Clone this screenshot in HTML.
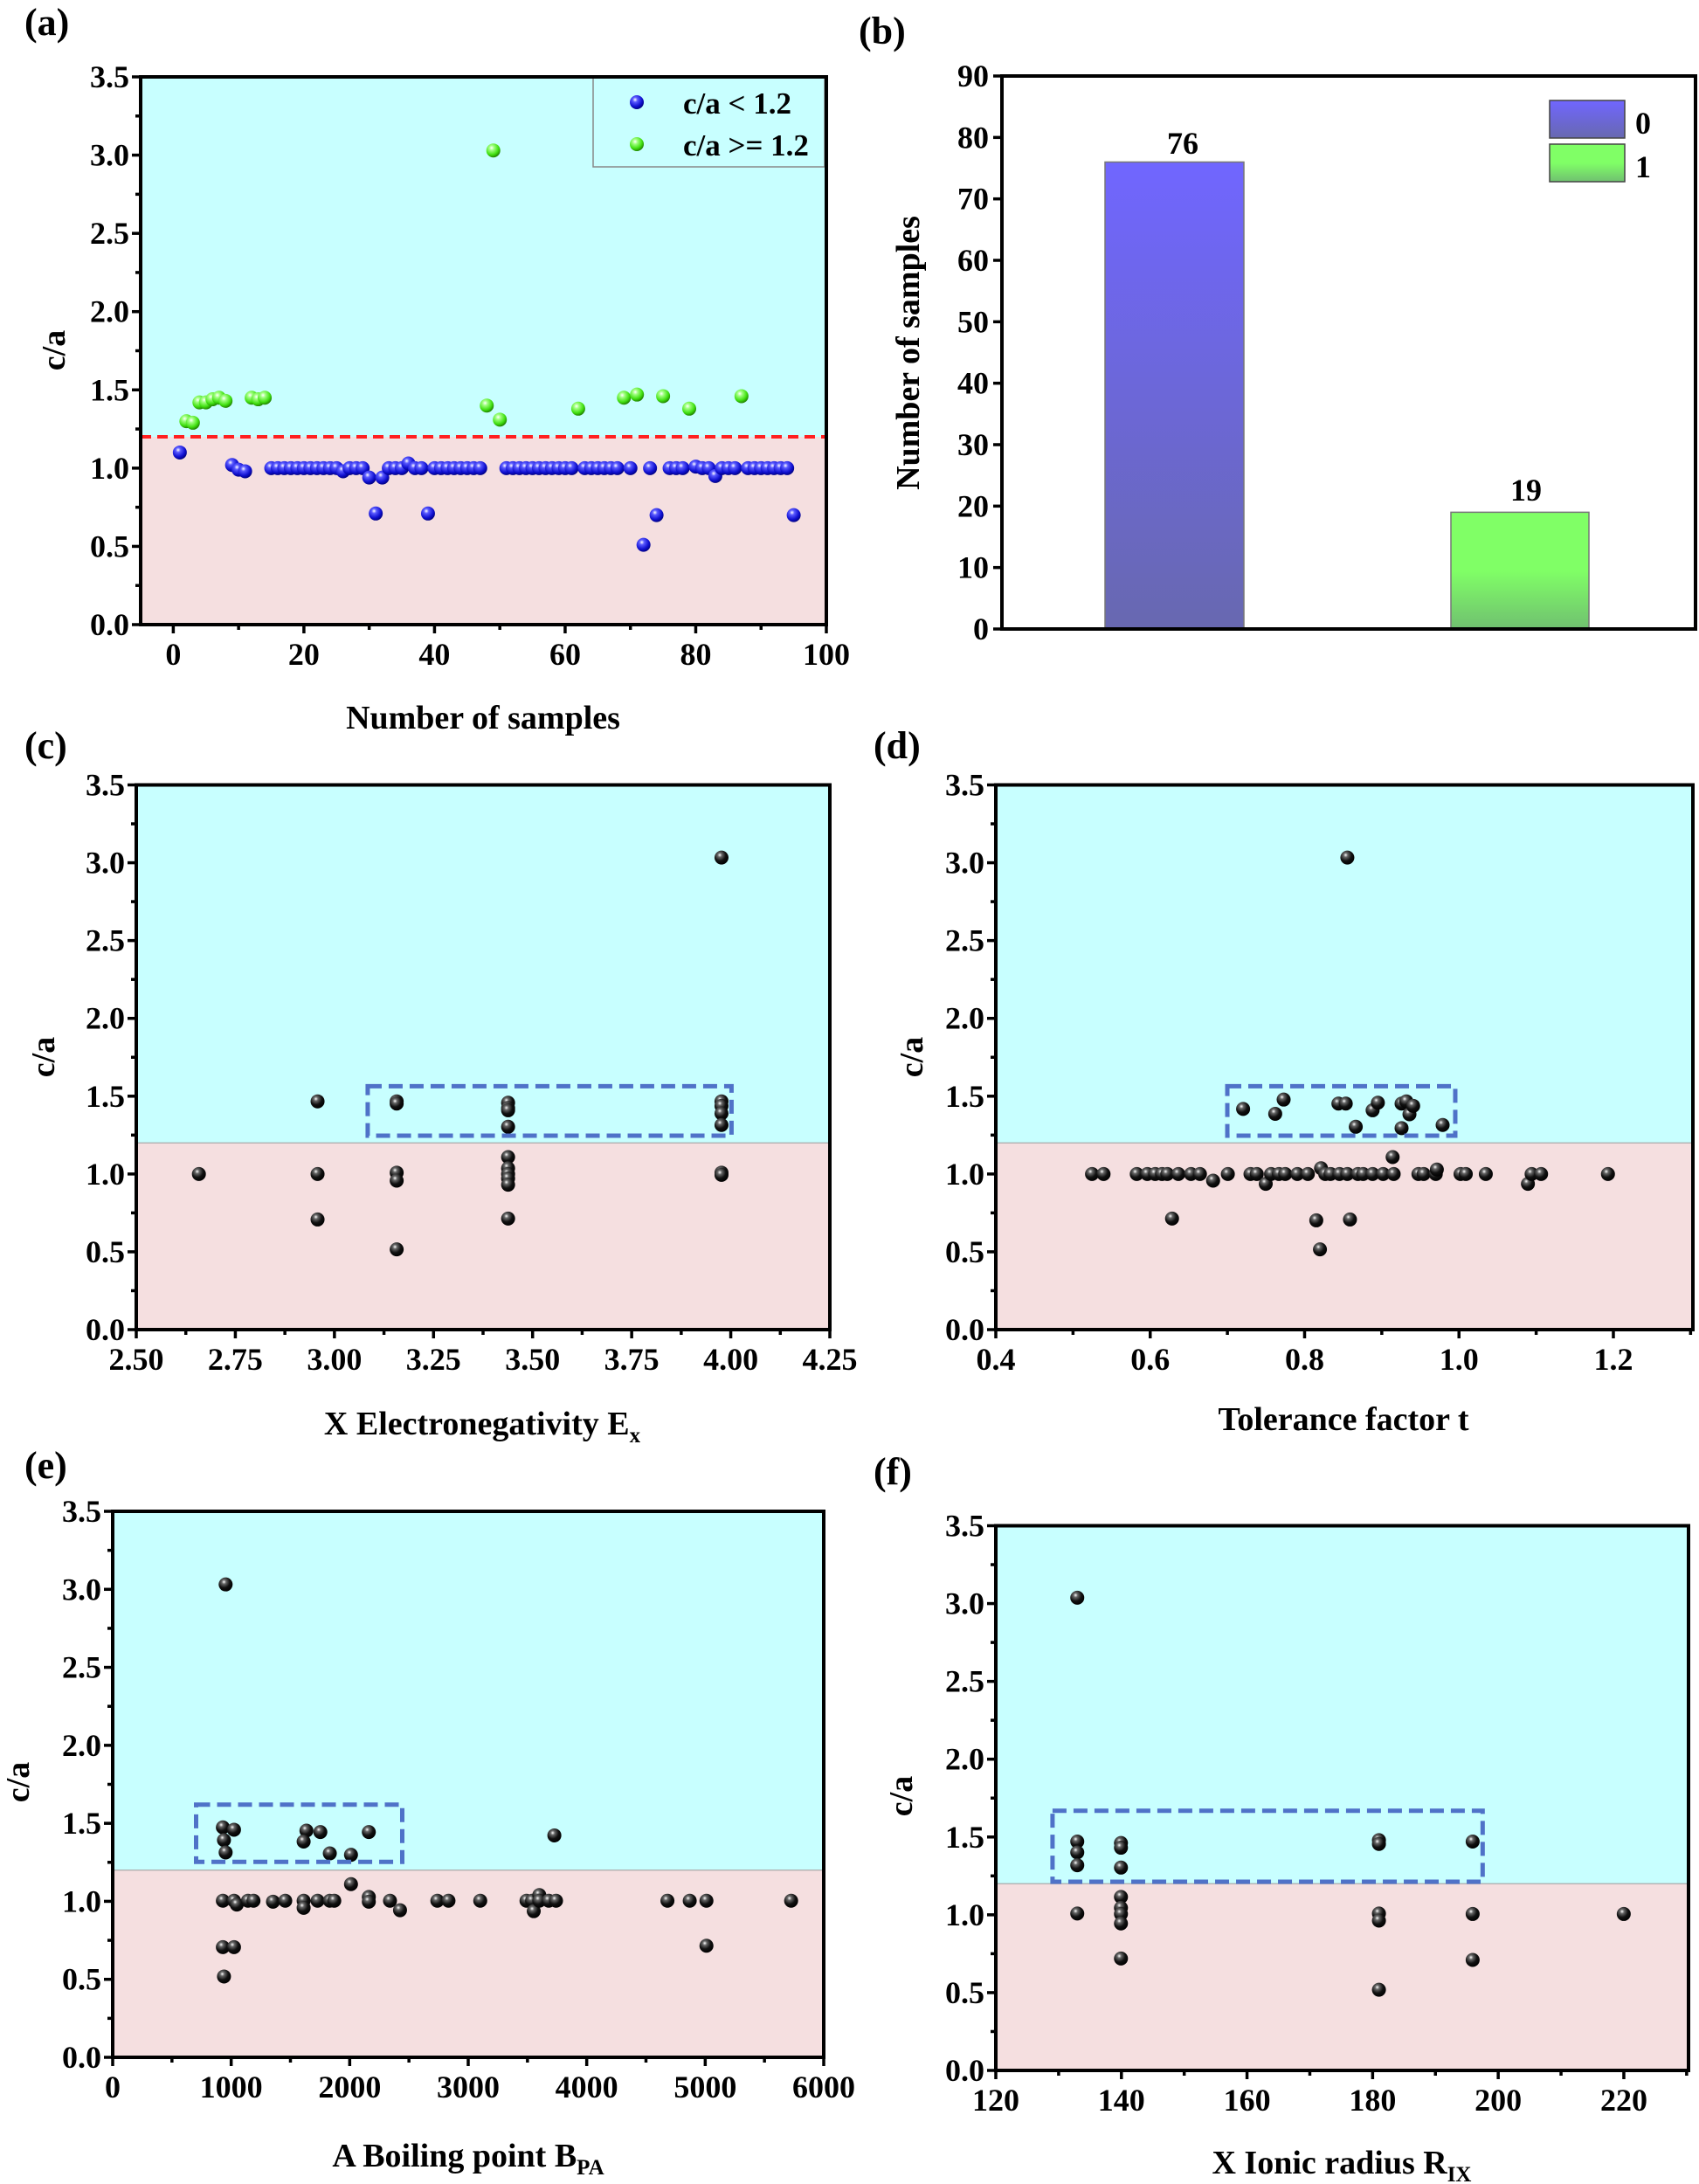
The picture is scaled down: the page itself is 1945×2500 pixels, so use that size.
<!DOCTYPE html>
<html><head><meta charset="utf-8"><style>
html,body{margin:0;padding:0;background:#fff;}
svg{display:block;font-family:"Liberation Serif",serif;font-weight:bold;}
</style></head><body>
<svg id="s" width="1945" height="2500" viewBox="0 0 1945 2500" xmlns="http://www.w3.org/2000/svg">
<defs>
<radialGradient id="ball" cx="0.38" cy="0.32" r="0.7">
<stop offset="0" stop-color="#ffffff"/><stop offset="0.22" stop-color="#666"/><stop offset="0.6" stop-color="#111"/><stop offset="1" stop-color="#000"/></radialGradient>
<radialGradient id="bball" cx="0.38" cy="0.32" r="0.7">
<stop offset="0" stop-color="#ffffff"/><stop offset="0.25" stop-color="#5a5aff"/><stop offset="0.7" stop-color="#1010d0"/><stop offset="1" stop-color="#000080"/></radialGradient>
<radialGradient id="gball" cx="0.38" cy="0.32" r="0.7">
<stop offset="0" stop-color="#ffffff"/><stop offset="0.25" stop-color="#a0ff80"/><stop offset="0.7" stop-color="#40e010"/><stop offset="1" stop-color="#208000"/></radialGradient>
<linearGradient id="gb" x1="0" y1="0" x2="0" y2="1"><stop offset="0" stop-color="#7066ff"/><stop offset="1" stop-color="#6868b0"/></linearGradient>
<linearGradient id="gg" x1="0" y1="0" x2="0" y2="1"><stop offset="0" stop-color="#80ff66"/><stop offset="0.5" stop-color="#80ff66"/><stop offset="1" stop-color="#70c070"/></linearGradient>
</defs>
<g id="root"></g>
<text x="28" y="40" font-size="44">(a)</text>
<text x="983" y="50" font-size="44">(b)</text>
<text x="28" y="868" font-size="44">(c)</text>
<text x="1000" y="868" font-size="44">(d)</text>
<text x="28" y="1692" font-size="44">(e)</text>
<text x="1000" y="1699" font-size="44">(f)</text>
<text x="553" y="834" font-size="38" text-anchor="middle">Number of samples</text>
<text x="552" y="1642" font-size="38" text-anchor="middle">X Electronegativity  E<tspan font-size="25" dy="9">x</tspan></text>
<text x="1538" y="1637" font-size="38" text-anchor="middle">Tolerance factor t</text>
<text x="536" y="2480" font-size="38" text-anchor="middle">A Boiling point B<tspan font-size="25" dy="9">PA</tspan></text>
<text x="1536" y="2488" font-size="38" text-anchor="middle">X Ionic radius R<tspan font-size="25" dy="9">IX</tspan></text>
<text transform="translate(74,401) rotate(-90)" font-size="38" text-anchor="middle">c/a</text>
<text transform="translate(1052,404) rotate(-90)" font-size="38" text-anchor="middle">Number of samples</text>
<text transform="translate(62,1210) rotate(-90)" font-size="38" text-anchor="middle">c/a</text>
<text transform="translate(1056,1210) rotate(-90)" font-size="38" text-anchor="middle">c/a</text>
<text transform="translate(33,2040) rotate(-90)" font-size="38" text-anchor="middle">c/a</text>
<text transform="translate(1044,2056) rotate(-90)" font-size="38" text-anchor="middle">c/a</text>
<text x="782" y="130" font-size="35">c/a &lt; 1.2</text>
<text x="782" y="178" font-size="35">c/a &gt;= 1.2</text>
<text x="1354" y="176" font-size="36" text-anchor="middle">76</text>
<text x="1747" y="573" font-size="36" text-anchor="middle">19</text>
<text x="1872" y="153" font-size="36">0</text>
<text x="1872" y="203" font-size="36">1</text>
</svg>
<script>
var NS="http://www.w3.org/2000/svg",root=document.getElementById("root");
function el(t,a){var e=document.createElementNS(NS,t);for(var k in a)e.setAttribute(k,a[k]);root.appendChild(e);return e;}
function txt(x,y,s,anc,fs){var e=el("text",{x:x,y:y,"font-size":fs||36,"text-anchor":anc||"middle"});e.textContent=s;}
function panel(P){
 var L=P.L,R=P.R,T=P.T,B=P.B;
 var X=function(v){return L+(v-P.x0)/(P.x1-P.x0)*(R-L);};
 var Y=function(v){return B-(v-P.y0)/(P.y1-P.y0)*(B-T);};
 P.X=X;P.Y=Y;
 if(P.bg){el("rect",{x:L,y:T,width:R-L,height:Y(1.2)-T,fill:"#c8ffff"});
  el("rect",{x:L,y:Y(1.2),width:R-L,height:B-Y(1.2),fill:"#f5dfe0"});
  if(!P.red)el("line",{x1:L,y1:Y(1.2),x2:R,y2:Y(1.2),stroke:"#aaa","stroke-width":1.2});}
 for(var v=P.y0;v<=P.y1+1e-9;v+=P.ys/2){var maj=Math.abs(Math.round(v/P.ys)*P.ys-v)<1e-6;var y=Y(v);
  el("line",{x1:L-(maj?10:6),y1:y,x2:L,y2:y,stroke:"#000","stroke-width":3.5});
  if(maj)txt(L-13,y+12,P.yf(v),"end");}
 for(var v=P.xt0;v<=P.x1+1e-9;v+=P.xs/2){var maj=Math.abs(Math.round((v-P.xt0)/P.xs)*P.xs-(v-P.xt0))<1e-6;var x=X(v);
  if(x<L-1)continue;
  el("line",{x1:x,y1:B,x2:x,y2:B+(maj?10:6),stroke:"#000","stroke-width":3.5});
  if(maj&&v<=P.xmax+1e-9)txt(x,B+46,P.xf(v));}
}
function frame(P){el("rect",{x:P.L,y:P.T,width:P.R-P.L,height:P.B-P.T,fill:"none",stroke:"#000","stroke-width":4});}
function ball(x,y,g){el("circle",{cx:x,cy:y,r:8,fill:"url(#"+(g||"ball")+")"});}
function box(P,zx,zy,sx,sy,x0,y0,x1,y1){el("rect",{x:zx+x0*sx,y:zy+y0*sy,width:(x1-x0)*sx,height:(y1-y0)*sy,fill:"none",stroke:"#4f72c8","stroke-width":5,"stroke-dasharray":"16,8"});}
function pts(zx,zy,sx,sy,arr){arr.forEach(function(p){ball(zx+p[0]*sx,zy+p[1]*sy);});}
var f1=function(v){return v.toFixed(1);};
var A={L:161,R:946,T:88,B:715,x0:-5,x1:100,y0:0,y1:3.5,ys:0.5,xt0:0,xs:20,xmax:100,bg:1,red:1,yf:f1,xf:function(v){return Math.round(v)+"";}};
panel(A);
el("line",{x1:A.L,y1:A.Y(1.2),x2:A.R,y2:A.Y(1.2),stroke:"#ff2020","stroke-width":4,"stroke-dasharray":"12,7"});
el("rect",{x:679,y:89,width:265,height:102,fill:"#c8ffff",stroke:"#888","stroke-width":1.5});
ball(729,117,"bball");ball(729,165,"gball");
var blue={1:1.1,9:1.02,10:0.99,11:0.98,26:0.98,30:0.94,31:0.71,32:0.94,36:1.03,39:0.71,72:0.51,74:0.7,80:1.01,83:0.95,95:0.7};
var green={2:1.3,3:1.29,4:1.42,5:1.42,6:1.44,7:1.45,8:1.43,12:1.45,13:1.44,14:1.45,48:1.4,49:3.03,50:1.31,62:1.38,69:1.45,71:1.47,75:1.46,79:1.38,87:1.46};
var bi=[1,9,10,11];for(var i=15;i<=47;i++)bi.push(i);for(i=51;i<=61;i++)bi.push(i);for(i=63;i<=68;i++)bi.push(i);
bi=bi.concat([70,72,73,74,76,77,78]);for(i=80;i<=86;i++)bi.push(i);for(i=88;i<=95;i++)bi.push(i);
bi.forEach(function(i){ball(A.X(i),A.Y(blue[i]||1.0),"bball");});
for(var k in green)ball(A.X(+k),A.Y(green[k]),"gball");
frame(A);
var Bp={L:1147,R:1941,T:87,B:720};
var yb=function(v){return 720-v/90*(720-87);};
for(var v=0;v<=90;v+=10){el("line",{x1:1137,y1:yb(v),x2:1147,y2:yb(v),stroke:"#000","stroke-width":3.5});txt(1132,yb(v)+12,v+"","end");}
el("rect",{x:1265,y:yb(76),width:159,height:720-yb(76),fill:"url(#gb)",stroke:"#777","stroke-width":1.5});
el("rect",{x:1661,y:yb(19),width:158,height:720-yb(19),fill:"url(#gg)",stroke:"#777","stroke-width":1.5});
el("rect",{x:1774,y:115,width:86,height:43,fill:"url(#gb)",stroke:"#444","stroke-width":1.5});
el("rect",{x:1774,y:165,width:86,height:43,fill:"url(#gg)",stroke:"#444","stroke-width":1.5});
frame(Bp);
var C={L:156,R:950,T:898.5,B:1522,x0:2.5,x1:4.25,y0:0,y1:3.5,ys:0.5,xt0:2.5,xs:0.25,xmax:4.25,bg:1,yf:f1,xf:function(v){return v.toFixed(2);}};
panel(C);
var s3x=0.6378,s3y=0.5102;
pts(0,850,s3x,s3y,[[357,968],[570,805],[570,968],[570,1070],[712,805],[712,810],[712,965],[712,983],[712,1137],[912,808],[912,820],[912,825],[912,862],[912,930],[912,955],[912,968],[912,978],[912,992],[912,1068],[1295,258],[1295,805],[1295,815],[1295,832],[1295,858],[1295,965],[1295,970]]);
box(C,0,850,s3x,s3y,660,771,1313,882);
frame(C);
var D={L:1140,R:1938,T:898.5,B:1522,x0:0.4,x1:1.303,y0:0,y1:3.5,ys:0.5,xt0:0.4,xs:0.2,xmax:1.2,bg:1,yf:f1,xf:function(v){return v.toFixed(1);}};
panel(D);
var s4x=0.6027;
var dp=[[702,822],[763,833],[779,801],[883,810],[897,810],[916,862],[948,825],[958,808],[1003,865],[1003,810],[1012,805],[1018,834],[1025,815],[1081,858],[900,258],[567,1068],[841,1072],[905,1070],[848,1137]];
var special={645:983,745:990,850:955,986:930,1070:958,1243:990};
[415,437,500,520,535,548,558,579,603,620,645,673,716,728,745,755,770,782,805,825,850,858,868,885,900,920,930,948,968,988,986,1035,1045,1068,1070,1115,1125,1163,1243,1250,1268,1395].forEach(function(x){dp.push([x,special[x]||968]);});
pts(1000,850,s4x,s3y,dp);
box(D,1000,850,s4x,s3y,672,771,1105,882);
frame(D);
var E={L:129,R:943,T:1730,B:2355,x0:0,x1:6000,y0:0,y1:3.5,ys:0.5,xt0:0,xs:1000,xmax:6000,bg:1,yf:f1,xf:function(v){return Math.round(v)+"";}};
panel(E);
var s5x=0.6378,s5y=0.542;
pts(0,1650,s5x,s5y,[[405,302],[400,815],[420,820],[402,842],[405,868],[550,822],[545,845],[575,825],[592,870],[630,873],[662,825],[995,832],[630,935],[400,970],[420,970],[425,978],[445,970],[455,970],[490,972],[512,970],[545,970],[545,985],[570,970],[592,970],[600,970],[662,962],[662,972],[700,970],[718,990],[785,970],[805,970],[862,970],[945,970],[955,970],[958,992],[968,958],[968,970],[985,970],[998,970],[1198,970],[1238,970],[1268,970],[1268,1065],[1420,970],[400,1068],[420,1068],[402,1130]]);
box(E,0,1650,s5x,s5y,352,767,722,888);
frame(E);
var F={L:1140,R:1933,T:1746.5,B:2370,x0:120,x1:230.3,y0:0,y1:3.5,ys:0.5,xt0:120,xs:20,xmax:220,bg:1,yf:f1,xf:function(v){return Math.round(v)+"";}};
panel(F);
pts(1000,1650,s4x,s5y,[[387,330],[387,845],[387,868],[387,895],[387,997],[470,848],[470,858],[470,900],[470,962],[470,985],[470,998],[470,1018],[470,1092],[960,842],[960,850],[960,997],[960,1012],[960,1158],[1138,845],[1138,998],[1138,1095],[1425,998]]);
box(F,1000,1650,s4x,s5y,340,780,1157,930);
frame(F);
</script>
</body></html>
